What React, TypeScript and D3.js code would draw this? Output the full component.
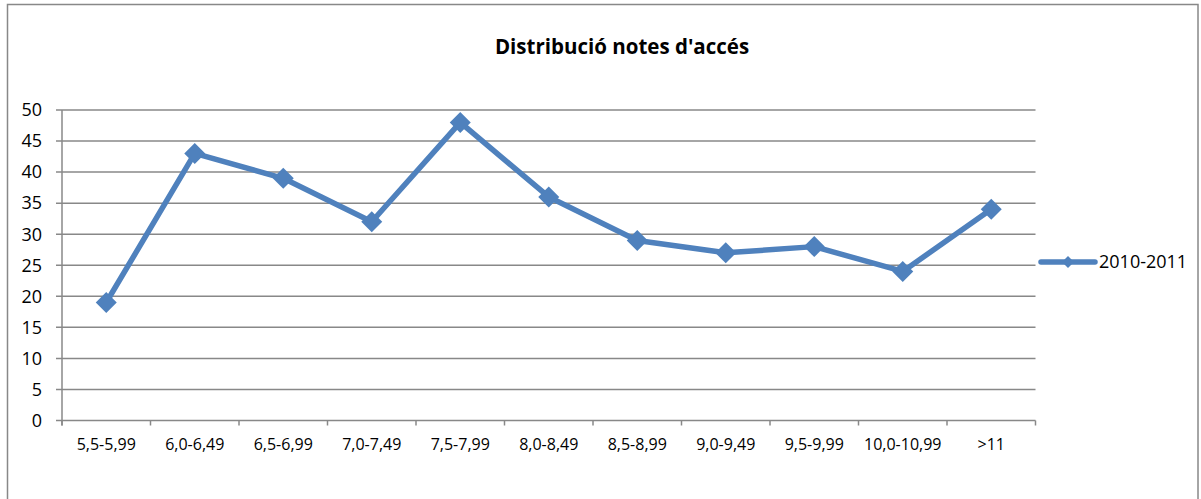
import React, { useEffect, useRef } from "react";
import * as d3 from "d3";

const categories = [
  "5,5-5,99",
  "6,0-6,49",
  "6,5-6,99",
  "7,0-7,49",
  "7,5-7,99",
  "8,0-8,49",
  "8,5-8,99",
  "9,0-9,49",
  "9,5-9,99",
  "10,0-10,99",
  ">11",
];
const values = [19, 43, 39, 32, 48, 36, 29, 27, 28, 24, 34];
const yTicks = [0, 5, 10, 15, 20, 25, 30, 35, 40, 45, 50];
const seriesName = "2010-2011";
const title = "Distribució notes d'accés";

const W = 1201;
const H = 499;
const BLUE = "#4F81BD";
const GRID = "#888888";
const FONT = "'Open Sans', 'Noto Sans', sans-serif";

export default function App() {
  const svgRef = useRef<SVGSVGElement>(null);

  useEffect(() => {
    if (!svgRef.current) return;
    const svg = d3.select(svgRef.current);
    svg.selectAll("*").remove();

    const left = 62;
    const right = 1035.5;
    const top = 110;
    const bottom = 420.5;

    // outer frame
    svg
      .append("rect")
      .attr("x", 7.5)
      .attr("y", 4.5)
      .attr("width", 1190.5)
      .attr("height", 520)
      .attr("fill", "#fff")
      .attr("stroke", GRID)
      .attr("stroke-width", 1.5);

    svg
      .append("text")
      .attr("x", 622)
      .attr("y", 47)
      .attr("dy", "0.35em")
      .attr("text-anchor", "middle")
      .attr("font-family", FONT)
      .attr("font-weight", "bold")
      .attr("font-size", 20.5)
      .text(title);

    const x = d3.scaleBand().domain(categories).range([left, right]);
    const y = d3.scaleLinear().domain([0, 50]).range([bottom, top]);

    const g = svg.append("g");

    // gridlines
    g.selectAll(".grid")
      .data(yTicks)
      .enter()
      .append("line")
      .attr("x1", left - 6)
      .attr("x2", right)
      .attr("y1", (d) => y(d))
      .attr("y2", (d) => y(d))
      .attr("stroke", GRID)
      .attr("stroke-width", 1.5);

    // y axis line
    g.append("line")
      .attr("x1", left)
      .attr("x2", left)
      .attr("y1", top)
      .attr("y2", bottom + 5)
      .attr("stroke", GRID)
      .attr("stroke-width", 1.5);

    g.selectAll(".ylab")
      .data(yTicks)
      .enter()
      .append("text")
      .attr("x", left - 20)
      .attr("y", (d) => y(d))
      .attr("dy", "0.35em")
      .attr("text-anchor", "end")
      .attr("font-family", FONT)
      .attr("font-size", 18)
      .text((d) => d);

    // x ticks
    const edges = categories.map((c) => x(c)!).concat([right]);
    g.selectAll(".xtick")
      .data(edges)
      .enter()
      .append("line")
      .attr("x1", (d) => d)
      .attr("x2", (d) => d)
      .attr("y1", bottom)
      .attr("y2", bottom + 5)
      .attr("stroke", GRID)
      .attr("stroke-width", 1.5);

    g.selectAll(".xlab")
      .data(categories)
      .enter()
      .append("text")
      .attr("x", (d) => x(d)! + x.bandwidth() / 2)
      .attr("y", 444)
      .attr("dy", "0.35em")
      .attr("text-anchor", "middle")
      .attr("font-family", FONT)
      .attr("font-size", 16)
      .text((d) => d);

    const line = d3
      .line<number>()
      .x((_, i) => x(categories[i])! + x.bandwidth() / 2)
      .y((d) => y(d));

    g.append("path")
      .datum(values)
      .attr("fill", "none")
      .attr("stroke", BLUE)
      .attr("stroke-width", 5.5)
      .attr("stroke-linejoin", "round")
      .attr("d", line);

    const diamond = (cx: number, cy: number, r: number) =>
      `M${cx},${cy - r}L${cx + r},${cy}L${cx},${cy + r}L${cx - r},${cy}Z`;

    g.selectAll(".pt")
      .data(values)
      .enter()
      .append("path")
      .attr("d", (d, i) =>
        diamond(x(categories[i])! + x.bandwidth() / 2, y(d), 10.5)
      )
      .attr("fill", BLUE);

    // legend
    const ly = 262;
    svg
      .append("line")
      .attr("x1", 1041)
      .attr("x2", 1095)
      .attr("y1", ly)
      .attr("y2", ly)
      .attr("stroke", BLUE)
      .attr("stroke-width", 5.5)
      .attr("stroke-linecap", "round");
    svg.append("path").attr("d", diamond(1068, ly, 6)).attr("fill", BLUE);
    svg
      .append("text")
      .attr("x", 1099)
      .attr("y", ly)
      .attr("dy", "0.35em")
      .attr("font-family", FONT)
      .attr("font-size", 18)
      .text(seriesName);
  }, []);

  return (
    <svg
      ref={svgRef}
      width={W}
      height={H}
      style={{ position: "absolute", left: 0, top: 0, display: "block" }}
    />
  );
}
